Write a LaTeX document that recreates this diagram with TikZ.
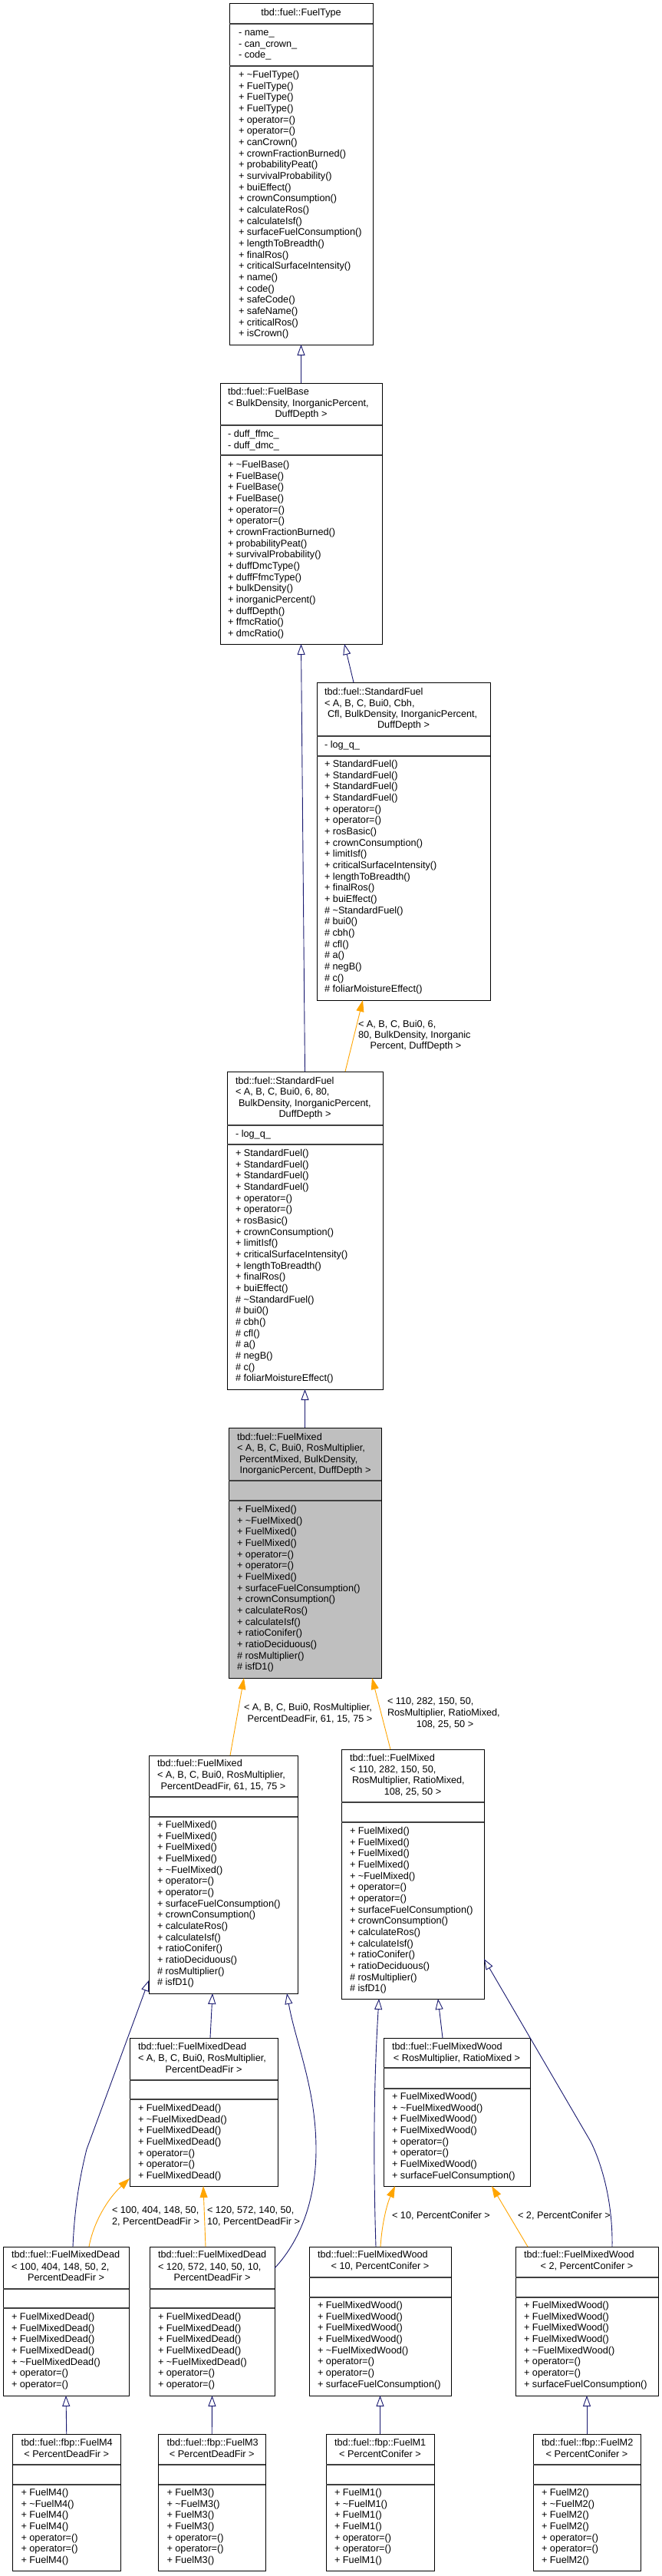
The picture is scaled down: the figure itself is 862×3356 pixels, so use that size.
\documentclass[tikz,border=0pt]{standalone}
\usepackage{fontspec}
\setmainfont{Liberation Sans}
\usetikzlibrary{arrows.meta,calc}
\definecolor{edgeblue}{HTML}{191970}
\definecolor{edgeorange}{HTML}{FFA500}
\definecolor{grayfill}{HTML}{BFBFBF}
\tikzset{
 txt/.style={inner sep=0pt, outer sep=0pt, font=\fontsize{12.7}{14.67}\selectfont},
 boxs/.style={draw=black, line width=1pt, fill=white, inner sep=0pt, outer sep=0pt},
 sepl/.style={draw=black!75, line width=1.1pt},
 inh/.style={draw=edgeblue, line width=0.9pt, -{Triangle[open,length=14pt,width=10pt]}},
 tmpl/.style={draw=edgeorange, line width=0.9pt, -{Triangle[length=15pt,width=10pt]}},
}
\newcommand\classbox[8]{%
 \node[boxs,#8,anchor=north west,minimum width={(#3-#2)*1pt},minimum height={(#7-#4)*1pt}] (#1) at (#2,#4) {};
 \draw[sepl] (#2,#5) -- (#3,#5);
 \draw[sepl] (#2,#6) -- (#3,#6);
}
\newcommand\members[4]{%
 \foreach \mtxt [count=\i from 0] in {#4} {\node[txt,anchor=base west] (#1\i) at (#2,{#3+3.5+14.66*\i}) {\mtxt};}
}
\newcommand\tleft[4]{\node[txt,anchor=base west] (#1) at (#2,{#3+3.5}) {#4};}
\newcommand\tcent[4]{\node[txt,anchor=base] (#1) at (#2,{#3+3.5}) {#4};}
\begin{document}
\begin{tikzpicture}[x=1pt,y=-1pt]
\fill[white] (0,0) rectangle (862,3356);
\useasboundingbox (0,0) rectangle (862,3356);

% FuelType
\classbox{ft}{299}{486}{5}{31}{86}{449}{}
\tcent{ftt}{392.5}{17.3}{tbd::fuel::FuelType}
\members{fta}{311}{43}{- name\_, - can\_crown\_, - code\_}
\members{ftm}{311}{98}{+ \textasciitilde FuelType(), + FuelType(), + FuelType(), + FuelType(), + operator=(), + operator=(), + canCrown(), + crownFractionBurned(), + probabilityPeat(), + survivalProbability(), + buiEffect(), + crownConsumption(), + calculateRos(), + calculateIsf(), + surfaceFuelConsumption(), + lengthToBreadth(), + finalRos(), + criticalSurfaceIntensity(), + name(), + code(), + safeCode(), + safeName(), + criticalRos(), + isCrown()}

% FuelBase
\classbox{fb}{287}{498}{499}{554}{593}{839}{}
\tleft{fbt1}{297}{511}{tbd::fuel::FuelBase}
\tleft{fbt2}{297}{526}{< BulkDensity, InorganicPercent,}
\tcent{fbt3}{392.5}{540}{DuffDepth >}
\members{fba}{297}{566}{- duff\_ffmc\_, - duff\_dmc\_}
\members{fbm}{297}{606}{+ \textasciitilde FuelBase(), + FuelBase(), + FuelBase(), + FuelBase(), + operator=(), + operator=(), + crownFractionBurned(), + probabilityPeat(), + survivalProbability(), + duffDmcType(), + duffFfmcType(), + bulkDensity(), + inorganicPercent(), + duffDepth(), + ffmcRatio(), + dmcRatio()}

% StandardFuel right
\classbox{sfr}{413}{639}{889}{959}{985}{1303}{}
\tleft{sfrt1}{423}{902}{tbd::fuel::StandardFuel}
\tleft{sfrt2}{423}{917}{< A, B, C, Bui0, Cbh,}
\tleft{sfrt3}{427}{931}{Cfl, BulkDensity, InorganicPercent,}
\tcent{sfrt4}{526}{945}{DuffDepth >}
\members{sfra}{423}{971}{- log\_q\_}
\members{sfrm}{423}{996}{+ StandardFuel(), + StandardFuel(), + StandardFuel(), + StandardFuel(), + operator=(), + operator=(), + rosBasic(), + crownConsumption(), + limitIsf(), + criticalSurfaceIntensity(), + lengthToBreadth(), + finalRos(), + buiEffect(), \# \textasciitilde StandardFuel(), \# bui0(), \# cbh(), \# cfl(), \# a(), \# negB(), \# c(), \# foliarMoistureEffect()}

% StandardFuel middle
\classbox{sfm}{296}{499}{1396}{1466}{1491}{1810}{}
\tleft{sfmt1}{307}{1409}{tbd::fuel::StandardFuel}
\tleft{sfmt2}{307}{1423}{< A, B, C, Bui0, 6, 80,}
\tleft{sfmt3}{311}{1438}{BulkDensity, InorganicPercent,}
\tcent{sfmt4}{397.5}{1452}{DuffDepth >}
\members{sfma}{307}{1478}{- log\_q\_}
\members{sfmm}{307}{1503}{+ StandardFuel(), + StandardFuel(), + StandardFuel(), + StandardFuel(), + operator=(), + operator=(), + rosBasic(), + crownConsumption(), + limitIsf(), + criticalSurfaceIntensity(), + lengthToBreadth(), + finalRos(), + buiEffect(), \# \textasciitilde StandardFuel(), \# bui0(), \# cbh(), \# cfl(), \# a(), \# negB(), \# c(), \# foliarMoistureEffect()}

% FuelMixed (gray)
\classbox{fm}{298}{497}{1860}{1929}{1955}{2186}{fill=grayfill}
\tleft{fmt1}{309}{1873}{tbd::fuel::FuelMixed}
\tleft{fmt2}{309}{1887}{< A, B, C, Bui0, RosMultiplier,}
\tleft{fmt3}{312}{1902}{PercentMixed, BulkDensity,}
\tcent{fmt4}{398}{1916}{InorganicPercent, DuffDepth >}
\members{fmm}{309}{1967}{+ FuelMixed(), + \textasciitilde FuelMixed(), + FuelMixed(), + FuelMixed(), + operator=(), + operator=(), + FuelMixed(), + surfaceFuelConsumption(), + crownConsumption(), + calculateRos(), + calculateIsf(), + ratioConifer(), + ratioDeciduous(), \# rosMultiplier(), \# isfD1()}

% FuelMixed left
\classbox{fml}{194}{388}{2287}{2341}{2367}{2597}{}
\tleft{fmlt1}{205}{2298}{tbd::fuel::FuelMixed}
\tleft{fmlt2}{205}{2313}{< A, B, C, Bui0, RosMultiplier,}
\tcent{fmlt3}{291}{2328}{PercentDeadFir, 61, 15, 75 >}
\members{fmlm}{205}{2378}{+ FuelMixed(), + FuelMixed(), + FuelMixed(), + FuelMixed(), + \textasciitilde FuelMixed(), + operator=(), + operator=(), + surfaceFuelConsumption(), + crownConsumption(), + calculateRos(), + calculateIsf(), + ratioConifer(), + ratioDeciduous(), \# rosMultiplier(), \# isfD1()}

% FuelMixed right
\classbox{fmr}{445}{631}{2279}{2348}{2374}{2604}{}
\tleft{fmrt1}{456}{2291}{tbd::fuel::FuelMixed}
\tleft{fmrt2}{456}{2306}{< 110, 282, 150, 50,}
\tleft{fmrt3}{459}{2320}{RosMultiplier, RatioMixed,}
\tcent{fmrt4}{538}{2335}{108, 25, 50 >}
\members{fmrm}{456}{2386}{+ FuelMixed(), + FuelMixed(), + FuelMixed(), + FuelMixed(), + \textasciitilde FuelMixed(), + operator=(), + operator=(), + surfaceFuelConsumption(), + crownConsumption(), + calculateRos(), + calculateIsf(), + ratioConifer(), + ratioDeciduous(), \# rosMultiplier(), \# isfD1()}

% FuelMixedDead
\classbox{fmd}{169}{362}{2655}{2710}{2735}{2848}{}
\tleft{fmdt1}{180}{2667}{tbd::fuel::FuelMixedDead}
\tleft{fmdt2}{180}{2682}{< A, B, C, Bui0, RosMultiplier,}
\tcent{fmdt3}{265.5}{2697}{PercentDeadFir >}
\members{fmdm}{180}{2747}{+ FuelMixedDead(), + \textasciitilde FuelMixedDead(), + FuelMixedDead(), + FuelMixedDead(), + operator=(), + operator=(), + FuelMixedDead()}

% FuelMixedWood
\classbox{fmw}{500}{691}{2655}{2694}{2721}{2848}{}
\tleft{fmwt1}{511}{2667}{tbd::fuel::FuelMixedWood}
\tcent{fmwt2}{595.5}{2682}{< RosMultiplier, RatioMixed >}
\members{fmwm}{511}{2732}{+ FuelMixedWood(), + \textasciitilde FuelMixedWood(), + FuelMixedWood(), + FuelMixedWood(), + operator=(), + operator=(), + FuelMixedWood(), + surfaceFuelConsumption()}

% FuelMixedDead <100...>
\classbox{fmda}{4}{168}{2927}{2982}{3007}{3121}{}
\tleft{fmdat1}{15}{2938}{tbd::fuel::FuelMixedDead}
\tleft{fmdat2}{15}{2954}{< 100, 404, 148, 50, 2,}
\tcent{fmdat3}{86}{2968}{PercentDeadFir >}
\members{fmdam}{15}{3019}{+ FuelMixedDead(), + FuelMixedDead(), + FuelMixedDead(), + FuelMixedDead(), + \textasciitilde FuelMixedDead(), + operator=(), + operator=()}

% FuelMixedDead <120...>
\classbox{fmdb}{195}{358}{2927}{2982}{3007}{3121}{}
\tleft{fmdbt1}{206}{2938}{tbd::fuel::FuelMixedDead}
\tleft{fmdbt2}{206}{2954}{< 120, 572, 140, 50, 10,}
\tcent{fmdbt3}{276.5}{2968}{PercentDeadFir >}
\members{fmdbm}{206}{3019}{+ FuelMixedDead(), + FuelMixedDead(), + FuelMixedDead(), + FuelMixedDead(), + \textasciitilde FuelMixedDead(), + operator=(), + operator=()}

% FuelMixedWood <10...>
\classbox{fmwa}{403}{588}{2927}{2967}{2993}{3121}{}
\tleft{fmwat1}{414}{2938}{tbd::fuel::FuelMixedWood}
\tcent{fmwat2}{495.5}{2953}{< 10, PercentConifer >}
\members{fmwam}{414}{3004}{+ FuelMixedWood(), + FuelMixedWood(), + FuelMixedWood(), + FuelMixedWood(), + \textasciitilde FuelMixedWood(), + operator=(), + operator=(), + surfaceFuelConsumption()}

% FuelMixedWood <2...>
\classbox{fmwb}{672}{858}{2927}{2967}{2993}{3121}{}
\tleft{fmwbt1}{683}{2938}{tbd::fuel::FuelMixedWood}
\tcent{fmwbt2}{765}{2953}{< 2, PercentConifer >}
\members{fmwbm}{683}{3004}{+ FuelMixedWood(), + FuelMixedWood(), + FuelMixedWood(), + FuelMixedWood(), + \textasciitilde FuelMixedWood(), + operator=(), + operator=(), + surfaceFuelConsumption()}

% FuelM4
\classbox{m4}{16.5}{157}{3171}{3211}{3237}{3349}{}
\tleft{m4t1}{27.5}{3183}{tbd::fuel::fbp::FuelM4}
\tcent{m4t2}{86.75}{3198}{< PercentDeadFir >}
\members{m4m}{27.5}{3248}{+ FuelM4(), + \textasciitilde FuelM4(), + FuelM4(), + FuelM4(), + operator=(), + operator=(), + FuelM4()}

% FuelM3
\classbox{m3}{206.5}{346}{3171}{3211}{3237}{3349}{}
\tleft{m3t1}{217.5}{3183}{tbd::fuel::fbp::FuelM3}
\tcent{m3t2}{276.25}{3198}{< PercentDeadFir >}
\members{m3m}{217.5}{3248}{+ FuelM3(), + \textasciitilde FuelM3(), + FuelM3(), + FuelM3(), + operator=(), + operator=(), + FuelM3()}

% FuelM1
\classbox{m1}{425}{566}{3171}{3211}{3237}{3349}{}
\tleft{m1t1}{436}{3183}{tbd::fuel::fbp::FuelM1}
\tcent{m1t2}{495.5}{3198}{< PercentConifer >}
\members{m1m}{436}{3248}{+ FuelM1(), + \textasciitilde FuelM1(), + FuelM1(), + FuelM1(), + operator=(), + operator=(), + FuelM1()}

% FuelM2
\classbox{m2}{695}{835}{3171}{3211}{3237}{3349}{}
\tleft{m2t1}{706}{3183}{tbd::fuel::fbp::FuelM2}
\tcent{m2t2}{765}{3198}{< PercentConifer >}
\members{m2m}{706}{3248}{+ FuelM2(), + \textasciitilde FuelM2(), + FuelM2(), + FuelM2(), + operator=(), + operator=(), + FuelM2()}

% connectors
\draw[inh] (fb.north) -- (ft.south);
\draw[inh] (sfm.north) -- (fb.south);
\draw[inh] ($(sfr.north west)+(48,0)$) -- ($(fb.south west)+(162,0)$);
\draw[tmpl] ($(sfm.north west)+(154,0)$) -- ($(sfr.south west)+(60,0)$);
\draw[inh] (fm.north) -- (sfm.south);
\draw[tmpl] ($(fml.north west)+(106,0)$) -- ($(fm.south west)+(20,0)$);
\draw[tmpl] ($(fmr.north west)+(64,0)$) -- ($(fm.south west)+(187,0)$);
\draw[inh] ($(fmd.north west)+(105,0)$) -- ($(fml.south west)+(83,0)$);
\draw[inh] ($(fmda.north west)+(91,0)$) .. controls (97,2880) and (103,2840) .. (113,2800) -- ($(fml.south west)+(0,-17)$);
\draw[inh] ($(fmdb.north east)+(0,28)$) .. controls (395,2915) and (412,2860) .. (412,2800) .. controls (412,2720) and (385,2660) .. ($(fml.south west)+(180,0)$);
\draw[inh] ($(fmwa.north west)+(87,0)$) .. controls (486,2800) and (488,2700) .. ($(fmr.south west)+(49,0)$);
\draw[inh] ($(fmw.north west)+(77,0)$) -- ($(fmr.south west)+(126,0)$);
\draw[inh] ($(fmwb.north west)+(126,0)$) .. controls (799,2870) and (785,2820) .. (770,2790) -- ($(fmr.south east)+(0,-52)$);
\draw[tmpl] ($(fmda.north west)+(112,0)$) .. controls (122,2895) and (140,2865) .. ($(fmd.south west)+(0,-10)$);
\draw[tmpl] ($(fmdb.north west)+(73,0)$) -- ($(fmd.south west)+(96,0)$);
\draw[tmpl] ($(fmwa.north west)+(93,0)$) .. controls (498,2895) and (505,2870) .. ($(fmw.south west)+(15,0)$);
\draw[tmpl] ($(fmwb.north west)+(16,0)$) -- ($(fmw.south west)+(141,0)$);
\draw[inh] (m4.north) -- (fmda.south);
\draw[inh] (m3.north) -- (fmdb.south);
\draw[inh] (m1.north) -- (fmwa.south);
\draw[inh] (m2.north) -- (fmwb.south);

% edge labels
\tleft{la1}{467}{1335}{< A, B, C, Bui0, 6,}
\tleft{la2}{467}{1349}{80, BulkDensity, Inorganic}
\tcent{la3}{542}{1363}{Percent, DuffDepth >}
\tleft{lb1}{318}{2225}{< A, B, C, Bui0, RosMultiplier,}
\tcent{lb2}{404}{2240}{PercentDeadFir, 61, 15, 75 >}
\tleft{lc1}{505}{2217}{< 110, 282, 150, 50,}
\tleft{lc2}{505}{2232}{RosMultiplier, RatioMixed,}
\tcent{lc3}{580}{2247}{108, 25, 50 >}
\tleft{ld1}{146}{2880}{< 100, 404, 148, 50,}
\tleft{ld2}{146}{2895}{2, PercentDeadFir >}
\tleft{le1}{270}{2880}{< 120, 572, 140, 50,}
\tleft{le2}{270}{2895}{10, PercentDeadFir >}
\tleft{lf1}{511}{2887}{< 10, PercentConifer >}
\tleft{lg1}{675}{2887}{< 2, PercentConifer >}
\end{tikzpicture}
\end{document}
